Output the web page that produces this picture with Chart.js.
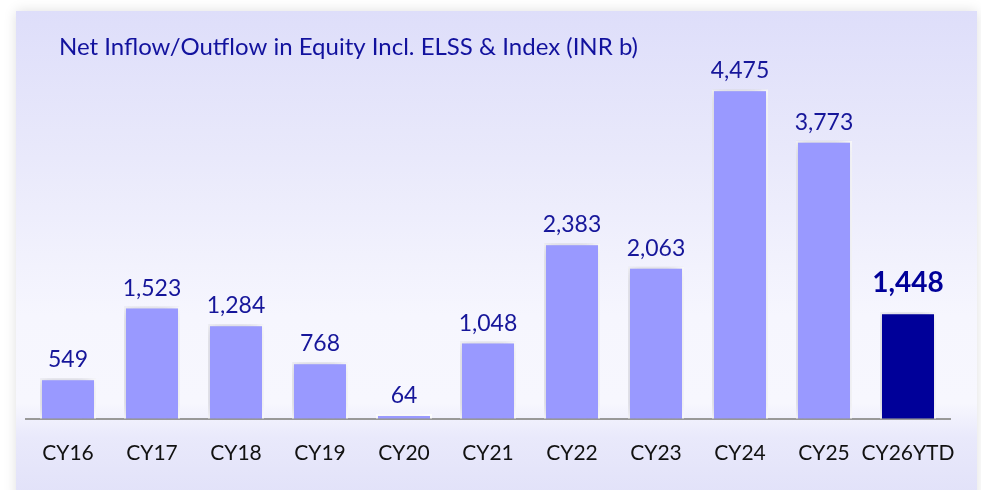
<!DOCTYPE html>
<html>
<head>
<meta charset="utf-8">
<script src="https://cdn.jsdelivr.net/npm/chart.js@4/dist/chart.umd.min.js"></script>
<style>
  html, body { margin: 0; padding: 0; background: #ffffff; }
  #wrap { position: relative; width: 981px; height: 490px; overflow: hidden; }
  #panel {
    position: absolute; left: 16px; top: 11px; width: 961px; height: 490px;
    background: linear-gradient(to bottom, #dedefa 0%, #e9e9fb 30%, #f6f6fe 62%, #f7f7fe 80%, #e9e9fb 87%, #e1e1f9 100%);
    box-shadow: 0 0 12px rgba(0,0,0,0.13);
  }
  #chart { position: absolute; left: 0; top: 0; }
</style>
</head>
<body>
<div id="wrap">
  <div id="panel"></div>
  <canvas id="chart" width="981" height="490"></canvas>
</div>
<script>
const titleText = "Net Inflow/Outflow in Equity Incl. ELSS & Index (INR b)";
const categories = ["CY16","CY17","CY18","CY19","CY20","CY21","CY22","CY23","CY24","CY25","CY26YTD"];
const netFlows = [549, 1523, 1284, 768, 64, 1048, 2383, 2063, 4475, 3773, 1448];
const highlightIndex = 10;

const barColors = netFlows.map((v,i)=> i===highlightIndex ? "#000099" : "#9999ff");
const FONT = "Lato, 'Open Sans', sans-serif";

// soft shadow behind the bars
const barShadow = {
    id: "barShadow",
    beforeDatasetsDraw(chart){
        const ctx = chart.ctx;
        ctx.save();
        ctx.shadowColor = "rgba(70,70,110,0.28)";
        ctx.shadowBlur = 14;
        ctx.shadowOffsetX = -3;
        ctx.shadowOffsetY = -2;
    },
    afterDatasetsDraw(chart){
        chart.ctx.restore();
    }
};

// title + value labels on top of bars
const labelsPlugin = {
    id: "labels",
    afterDraw(chart){
        const ctx = chart.ctx;
        ctx.save();
        ctx.fillStyle = "#12129e";
        ctx.font = "24px " + FONT;
        ctx.textAlign = "left";
        ctx.textBaseline = "alphabetic";
        ctx.fillText(titleText, 59, 55);

        const meta = chart.getDatasetMeta(0);
        meta.data.forEach((bar,i)=>{
            const v = netFlows[i].toLocaleString("en-US");
            ctx.textAlign = "center";
            if(i===highlightIndex){
                ctx.font = "bold 28px " + FONT;
                ctx.fillStyle = "#000099";
                ctx.fillText(v, bar.x, bar.y - 20);
            } else {
                ctx.font = "23px " + FONT;
                ctx.fillStyle = "#16169a";
                ctx.fillText(v, bar.x, bar.y - 11);
            }
        });
        ctx.restore();
    }
};

new Chart(document.getElementById("chart"),{
    type: "bar",
    data: {
        labels: categories,
        datasets: [{
            data: netFlows,
            backgroundColor: barColors,
            borderColor: "#ffffff",
            borderWidth: 2,
            borderSkipped: "bottom",
            categoryPercentage: 1,
            barPercentage: 0.667
        }]
    },
    options: {
        responsive: false,
        animation: false,
        devicePixelRatio: 1,
        layout: { padding: { left: 26, right: 31, top: 21, bottom: 2 } },
        plugins: { legend: { display: false }, tooltip: { enabled: false } },
        scales: {
            x: {
                grid: { display: false, drawTicks: false },
                border: { color: "#999999", width: 2 },
                ticks: { color: "#111111", font: { family: FONT, size: 21 }, padding: 22, maxRotation: 0, autoSkip: false }
            },
            y: { display: false, min: 0, max: 5400 }
        }
    },
    plugins: [barShadow, labelsPlugin]
});
</script>
</body>
</html>
